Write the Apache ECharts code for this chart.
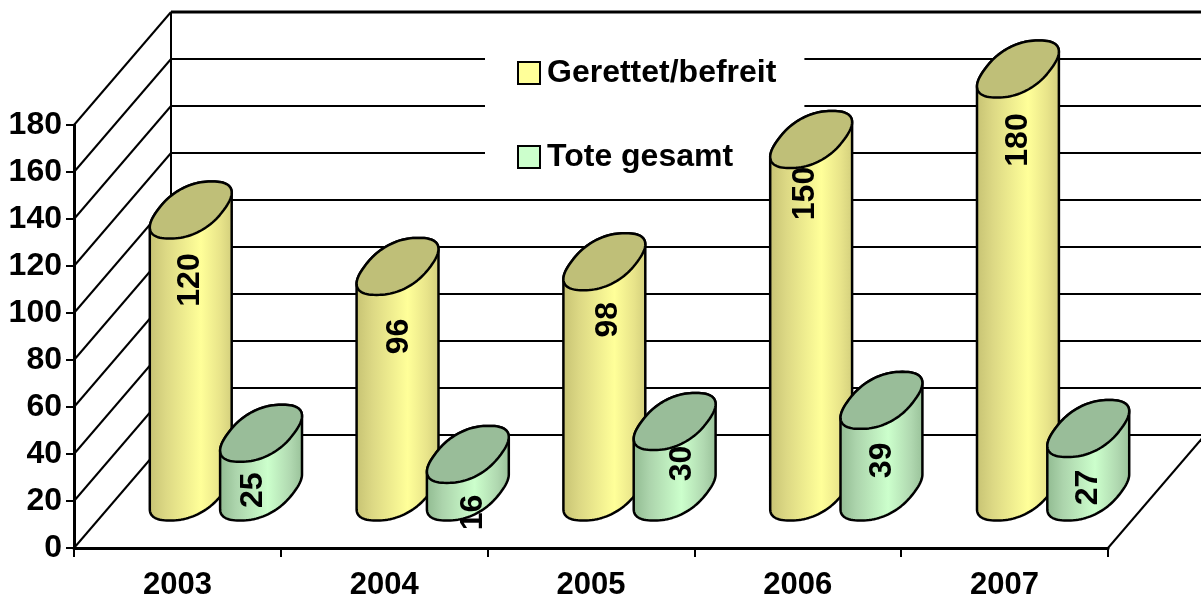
<!DOCTYPE html>
<html>
<head>
<meta charset="utf-8">
<style>html,body{margin:0;padding:0;background:#fff}#c{width:1201px;height:601px}</style>
<script src="https://cdn.jsdelivr.net/npm/echarts@6/dist/echarts.min.js"></script>
</head>
<body>
<div id="c"></div>
<script>
const years = ['2003', '2004', '2005', '2006', '2007'];
const gerettet = [120, 96, 98, 150, 180];
const tote = [25, 16, 30, 39, 27];
const yTicks = [0, 20, 40, 60, 80, 100, 120, 140, 160, 180];

// hand-placed label nudges of the original [dx, dy from the cylinder top centre]
const labelGerettet = [[-1, 70], [2, 70], [4, 58], [-6, 54], [0, 71]];
const labelTote = [[-8, 57], [5, 58], [8, 42], [1, 60], [0, 59]];

const FONT = '"Liberation Sans", Arial, sans-serif';
const WALL = [97, -113];        // back wall offset from the front plane
const MID = [48.5, -56];        // cylinders stand half way into the floor
const SIDE = 0.17;              // cylinder centre offset, share of a band
const RU = 33, RVX = 21, RVY = 28.5, ROUND = 0.85; // sheared super-ellipse of the section

function spow(a) { return Math.sign(a) * Math.pow(Math.abs(a), ROUND); }
function ringPoint(c, t) {
  const ct = spow(Math.cos(t)), st = spow(Math.sin(t));
  return [c[0] + RU * ct + RVX * st, c[1] - RVY * st];
}
// parameter of the right-hand silhouette point
const T0 = (function () {
  let best = 0, bx = -1e9;
  for (let k = 0; k < 180; k++) {
    const t = k * Math.PI / 360;
    const x = ringPoint([0, 0], t)[0];
    if (x > bx) { bx = x; best = t; }
  }
  return best;
})();

function cylinder(sign, gradient, topColor, nudges) {
  return function (params, api) {
    const i = api.value(0), v = api.value(1);
    const band = api.size([1, 0])[0];
    const top = api.coord([i, v]);
    const base = api.coord([i, 0]);
    const dx = MID[0] + sign * SIDE * band;
    const ct = [top[0] + dx, top[1] + MID[1]];
    const cb = [base[0] + dx, base[1] + MID[1]];
    const N = 48;
    const body = [];
    for (let k = 0; k <= N; k++) body.push(ringPoint(ct, T0 + Math.PI * k / N));
    for (let k = 0; k <= N; k++) body.push(ringPoint(cb, T0 + Math.PI + Math.PI * k / N));
    const ring = [];
    for (let k = 0; k < N * 2; k++) ring.push(ringPoint(ct, Math.PI * k / N));
    const line = { stroke: '#000', lineWidth: 2.5, lineJoin: 'round' };
    return {
      type: 'group',
      children: [
        { type: 'polygon', shape: { points: body }, style: Object.assign({ fill: gradient }, line) },
        { type: 'polygon', shape: { points: ring }, style: Object.assign({ fill: topColor }, line) },
        {
          type: 'text', x: ct[0] + nudges[i][0], y: ct[1] + nudges[i][1], rotation: Math.PI / 2, z2: 20,
          style: { text: String(v), fill: '#000', font: 'bold 32px ' + FONT, align: 'center', verticalAlign: 'middle' }
        }
      ]
    };
  };
}

function grad(stops) {
  return new echarts.graphic.LinearGradient(0, 0, 1, 0, stops.map(s => ({ offset: s[0], color: s[1] })));
}
const yellowGrad = grad([[0, '#c6c273'], [0.2, '#dcd884'], [0.62, '#ffff99'], [0.85, '#e8e48a'], [1, '#d2ce7c']]);
const greenGrad = grad([[0, '#90ba90'], [0.2, '#acd4ac'], [0.58, '#ccffcc'], [0.85, '#b0d8b0'], [1, '#98c098']]);

function wall(params, api) {
  const v = api.value(1);
  const cs = params.coordSys;
  const p = api.coord([0, v]);
  const x0 = cs.x, x1 = cs.x + cs.width;
  const y = p[1];
  const kids = [
    {
      type: 'line',
      shape: { x1: x0, y1: y, x2: x0 + WALL[0], y2: y + WALL[1] },
      style: { stroke: '#000', lineWidth: 2 }
    },
    {
      type: 'line',
      shape: { x1: x0 + WALL[0], y1: y + WALL[1], x2: x1 + WALL[0], y2: y + WALL[1] },
      style: { stroke: '#000', lineWidth: v === 180 ? 3 : 2 }
    }
  ];
  if (v === 0) {
    kids.push({
      type: 'line',
      shape: { x1: x1, y1: y, x2: x1 + WALL[0], y2: y + WALL[1] },
      style: { stroke: '#000', lineWidth: 2 }
    });
    kids.push({
      type: 'line',
      shape: { x1: x0 + WALL[0], y1: y + WALL[1], x2: x0 + WALL[0], y2: cs.y + WALL[1] },
      style: { stroke: '#000', lineWidth: 2 }
    });
  }
  return { type: 'group', children: kids };
}

const chart = echarts.init(document.getElementById('c'), null, { renderer: 'canvas' });
chart.setOption({
  animation: false,
  backgroundColor: '#fff',
  grid: { left: 74, right: 93, top: 125, bottom: 53 },
  tooltip: { show: false },
  legend: {
    orient: 'vertical', left: 485, top: 41,
    padding: [16, 28, 2, 32],
    backgroundColor: '#fff',
    itemWidth: 22, itemHeight: 22, itemGap: 52,
    selectedMode: false,
    textStyle: { fontFamily: FONT, fontWeight: 'bold', fontSize: 32, color: '#000', lineHeight: 22, padding: [3, 0, 0, 2] },
    data: [
      { name: 'Gerettet/befreit', icon: 'rect', itemStyle: { color: '#ffff99', borderColor: '#000', borderWidth: 2 } },
      { name: 'Tote gesamt', icon: 'rect', itemStyle: { color: '#ccffcc', borderColor: '#000', borderWidth: 2 } }
    ]
  },
  xAxis: {
    type: 'category', data: years, boundaryGap: true,
    axisLine: { show: true, lineStyle: { color: '#000', width: 3 } },
    axisTick: { show: true, alignWithLabel: false, length: 9, lineStyle: { color: '#000', width: 2 } },
    axisLabel: { color: '#000', fontFamily: FONT, fontWeight: 'bold', fontSize: 31, margin: 22 },
    splitLine: { show: false }
  },
  yAxis: {
    type: 'value', min: 0, max: 180, interval: 20,
    axisLine: { show: true, lineStyle: { color: '#000', width: 3 } },
    axisTick: { show: true, length: 8, lineStyle: { color: '#000', width: 2 } },
    axisLabel: { color: '#000', fontFamily: FONT, fontWeight: 'bold', fontSize: 32, margin: 12, padding: [3, 0, 0, 0] },
    splitLine: { show: false }
  },
  series: [
    {
      type: 'custom', name: 'wall', z: 1, silent: true, clip: false,
      renderItem: wall,
      data: yTicks.map(v => [0, v]),
      encode: { x: 0, y: 1 }
    },
    {
      type: 'custom', name: 'Gerettet/befreit', z: 6, clip: false,
      itemStyle: { color: '#ffff99' },
      renderItem: cylinder(-1, yellowGrad, '#bfbf78', labelGerettet),
      data: gerettet.map((v, i) => [i, v]),
      encode: { x: 0, y: 1 }
    },
    {
      type: 'custom', name: 'Tote gesamt', z: 7, clip: false,
      itemStyle: { color: '#ccffcc' },
      renderItem: cylinder(1, greenGrad, '#99bd99', labelTote),
      data: tote.map((v, i) => [i, v]),
      encode: { x: 0, y: 1 }
    }
  ]
});
</script>
</body>
</html>
